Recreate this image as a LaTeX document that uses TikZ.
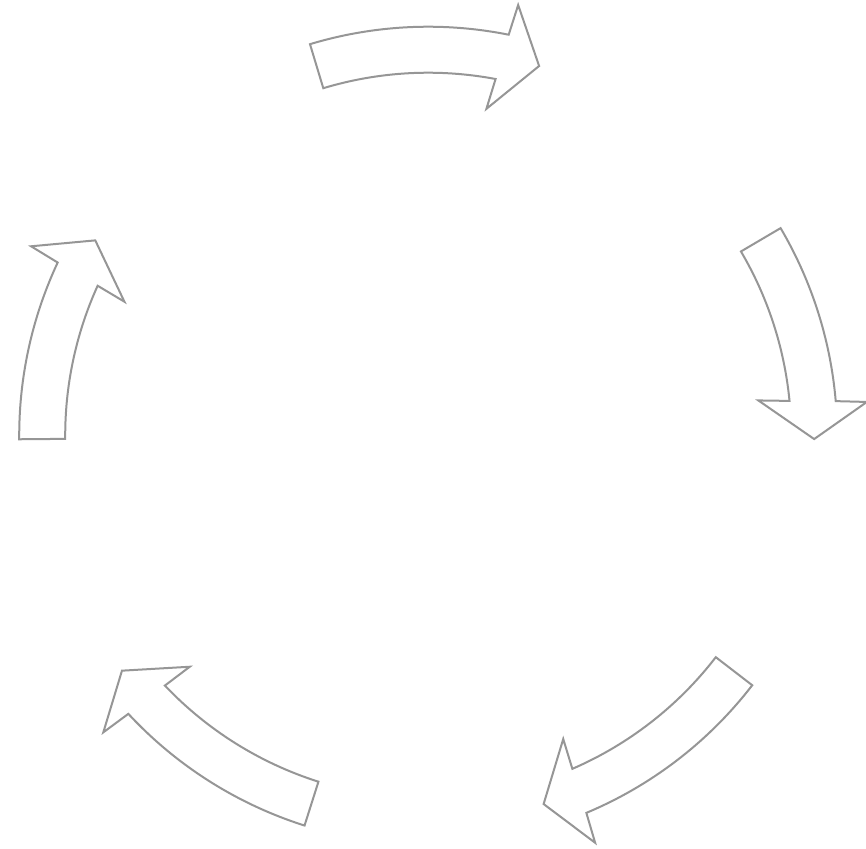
\documentclass[tikz,border=0pt]{standalone}
\definecolor{arrowgray}{RGB}{150,150,150}
\begin{document}
\begin{tikzpicture}[cycarrow/.style={draw=arrowgray, line width=2pt, fill=white, line join=miter}]
    \useasboundingbox (-428.2pt,-412.3pt) rectangle (437.8pt,435.7pt);
    % tail angle / tip angle of each arrow
    \foreach \ta/\tb in {106.8/73.3, 30.5/-0.5, -37.6/-72.6, -107.6/-142.5, 180.5/149.6}
        \draw[cycarrow] (\ta:409pt) arc[start angle=\ta, end angle=\tb+5.35, radius=409pt]
            -- (\tb+4.9:440pt) -- (\tb:386pt) -- (\tb+6.6:332pt) -- (\tb+6:363pt)
            arc[start angle=\tb+6, end angle=\ta, radius=363pt] -- cycle;
\end{tikzpicture}
\end{document}
